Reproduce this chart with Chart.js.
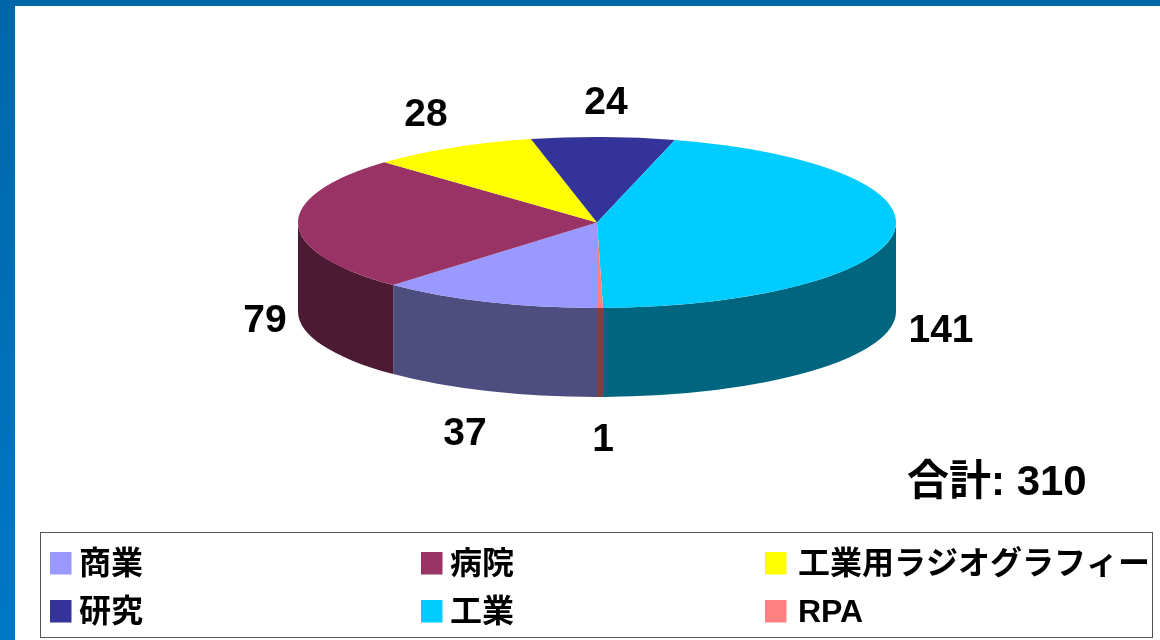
<!DOCTYPE html>
<html lang="ja">
<head>
<meta charset="utf-8">
<style>html,body{margin:0;padding:0;background:#fff}canvas{display:block}</style>
<script src="https://cdn.jsdelivr.net/npm/chart.js@4"></script>
</head>
<body>
<canvas id="c" width="1160" height="640"></canvas>
<script>
const categories = ['商業','病院','工業用ラジオグラフィー','研究','工業','RPA'];
const counts = [37,79,28,24,141,1];
const sliceColors = ['#9999FF','#993366','#FFFF00','#333399','#00CCFF','#FF8080'];
const totalLabel = '合計: 310';

const FONT = '"Liberation Sans","Noto Sans CJK JP",sans-serif';
const view = {topY:222.5, ry:85.5, depth:89};
const valueLabelPos = [[465,434],[265,321],[426,115],[606,103],[941,331],[603,440]];
const legendBox = {x:40.5,y:532.5,w:1112,h:105};
const legendCols = [50,421,765];
const legendRows = [552,600];

function shade(hex){
  const n=parseInt(hex.slice(1),16);
  const f=v=>Math.round(v/2);
  return `rgb(${f(n>>16&255)},${f(n>>8&255)},${f(n&255)})`;
}

const pie3d = {
  id:'pie3d',
  beforeDraw(chart){
    const {ctx,width,height}=chart;
    const g=ctx.createLinearGradient(0,0,0,height);
    g.addColorStop(0,'#0066AA');g.addColorStop(1,'#0078C6');
    ctx.save();
    ctx.fillStyle=g;ctx.fillRect(0,0,width,height);
    ctx.fillStyle='#fff';ctx.fillRect(15,6,width-15,height-6);
    ctx.restore();
  },
  beforeDatasetsDraw(chart){
    const {ctx}=chart;
    const arcs=chart.getDatasetMeta(0).data;
    arcs.forEach((arc,i)=>{
      const p=arc.getProps(['x','startAngle','endAngle','outerRadius'],true);
      const rx=p.outerRadius;
      [0,2*Math.PI].forEach(k=>{
        const a=Math.max(p.startAngle,k), b=Math.min(p.endAngle,k+Math.PI);
        if(b<=a) return;
        ctx.beginPath();
        ctx.ellipse(p.x,view.topY,rx,view.ry,0,a,b);
        ctx.ellipse(p.x,view.topY+view.depth,rx,view.ry,0,b,a,true);
        ctx.closePath();
        ctx.fillStyle=shade(sliceColors[i]);
        ctx.fill();
      });
    });
    const a0=arcs[0].getProps(['x','y','outerRadius'],true);
    ctx.save();
    ctx.translate(a0.x,view.topY);
    ctx.scale(1,view.ry/a0.outerRadius);
    ctx.translate(-a0.x,-a0.y);
  },
  afterDatasetsDraw(chart){
    const {ctx}=chart;
    ctx.restore();
    ctx.save();
    ctx.fillStyle='#000';
    ctx.textBaseline='middle';
    ctx.textAlign='center';
    ctx.font='bold 39px '+FONT;
    counts.forEach((v,i)=>ctx.fillText(String(v),valueLabelPos[i][0],valueLabelPos[i][1]));
    ctx.textAlign='left';
    ctx.font='bold 42px '+FONT;
    ctx.fillText(totalLabel,907,483);
    ctx.strokeStyle='#555';ctx.lineWidth=1;
    ctx.fillStyle='#fff';
    ctx.fillRect(legendBox.x,legendBox.y,legendBox.w,legendBox.h);
    ctx.strokeRect(legendBox.x,legendBox.y,legendBox.w,legendBox.h);
    ctx.font='bold 32px '+FONT;
    categories.forEach((name,i)=>{
      const cx=legendCols[i%3], cy=legendRows[Math.floor(i/3)];
      ctx.fillStyle=sliceColors[i];
      ctx.fillRect(cx,cy,21.5,22.5);
      ctx.fillStyle='#000';
      ctx.fillText(name,cx+(i%3===2?33:29),cy+13);
    });
    ctx.restore();
  }
};

new Chart(document.getElementById('c'),{
  type:'pie',
  data:{labels:categories,datasets:[{data:counts,backgroundColor:sliceColors,borderWidth:0,hoverOffset:0}]},
  options:{
    responsive:false,animation:false,events:[],rotation:180,
    layout:{padding:{left:298,right:264,top:21,bottom:21}},
    plugins:{legend:{display:false},tooltip:{enabled:false},title:{display:false}}
  },
  plugins:[pie3d]
});
</script>
</body>
</html>
